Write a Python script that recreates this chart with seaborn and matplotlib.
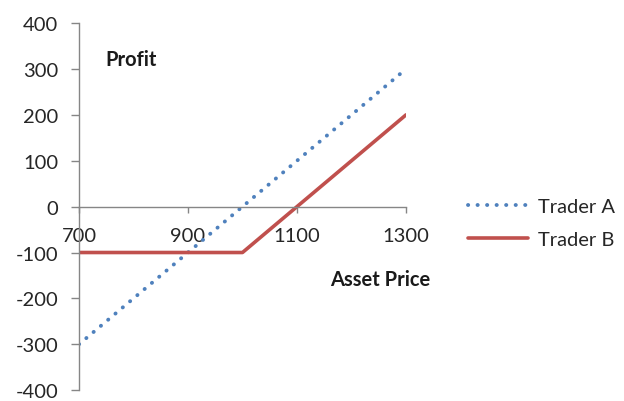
import matplotlib
matplotlib.use("Agg")
import matplotlib.pyplot as plt
import pandas as pd
import seaborn as sns

price = [700, 1000, 1300]
trader_a = [-300, 0, 300]
trader_b = [-100, -100, 200]
x_ticks = [700, 900, 1100, 1300]
y_ticks = [-400, -300, -200, -100, 0, 100, 200, 300, 400]

df = pd.DataFrame({"price": price, "Trader A": trader_a, "Trader B": trader_b})

sns.set_style("white")
plt.rcParams["font.family"] = ["Lato", "DejaVu Sans"]
plt.rcParams["axes.unicode_minus"] = False

fig = plt.figure(figsize=(6.24, 4.02), dpi=100)
ax = fig.add_axes([0.1266, 0.027, 0.5240, 0.913])

sns.lineplot(data=df, x="price", y="Trader A", ax=ax,
             color="#4F81BD", linewidth=2.8, linestyle=(0, (0.05, 2.4)),
             dash_capstyle="round", label="Trader A")
sns.lineplot(data=df, x="price", y="Trader B", ax=ax,
             color="#C0504D", linewidth=2.6, label="Trader B")

ax.set_xlim(700, 1300)
ax.set_ylim(-400, 400)
ax.set_xticks(x_ticks)
ax.set_yticks(y_ticks)
ax.set_xlabel("")
ax.set_ylabel("")

axis_grey = "#868686"
for side in ["top", "right"]:
    ax.spines[side].set_visible(False)
ax.spines["bottom"].set_position(("data", 0))
for side in ["left", "bottom"]:
    ax.spines[side].set_color(axis_grey)
    ax.spines[side].set_linewidth(1.0)

ax.tick_params(axis="y", direction="out", length=6, width=1, color=axis_grey,
               labelsize=14.5, labelcolor="#262626", pad=9, left=True)
ax.tick_params(axis="x", direction="out", length=4, width=1, color=axis_grey,
               labelsize=14.5, labelcolor="#262626", pad=11, bottom=True)

ax.text(105 / 624, 1 - 60 / 402, "Profit", transform=fig.transFigure,
        fontsize=14.5, fontweight="bold", va="center", ha="left", color="#1a1a1a")
ax.text(330 / 624, 1 - 280 / 402, "Asset Price", transform=fig.transFigure,
        fontsize=14.5, fontweight="bold", va="center", ha="left", color="#1a1a1a")

leg = ax.legend(loc="center left", bbox_to_anchor=(468 / 624, 1 - 224 / 402),
                bbox_transform=fig.transFigure, frameon=False, fontsize=14.5,
                handlelength=3.0, handletextpad=0.5, labelspacing=0.8,
                borderpad=0, borderaxespad=0)
for t in leg.get_texts():
    t.set_color("#262626")

fig.savefig("out.png", dpi=100)
